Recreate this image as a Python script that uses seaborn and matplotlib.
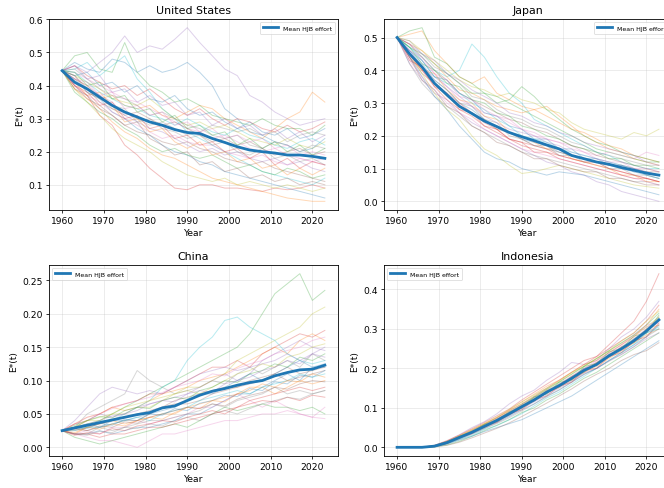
import numpy as np
import pandas as pd
import matplotlib
matplotlib.use("Agg")
import matplotlib.pyplot as plt
import seaborn as sns

years = [1960, 1963, 1966, 1969, 1972, 1975, 1978, 1981, 1984, 1987, 1990,
         1993, 1996, 1999, 2002, 2005, 2008, 2011, 2014, 2017, 2020, 2023]

us_mean = [0.445, 0.41, 0.39, 0.365, 0.34, 0.32, 0.305, 0.29, 0.28, 0.267, 0.258,
           0.255, 0.24, 0.228, 0.215, 0.205, 0.2, 0.196, 0.19, 0.19, 0.186, 0.18]
us_paths = [
    [0.445,0.42,0.38,0.36,0.32,0.30,0.27,0.25,0.22,0.20,0.19,0.17,0.16,0.14,0.13,0.12,0.11,0.10,0.09,0.08,0.07,0.06],
    [0.445,0.42,0.40,0.36,0.37,0.34,0.33,0.34,0.31,0.30,0.32,0.34,0.33,0.30,0.28,0.26,0.24,0.27,0.30,0.32,0.38,0.35],
    [0.445,0.49,0.50,0.45,0.44,0.53,0.44,0.40,0.38,0.35,0.36,0.34,0.31,0.30,0.29,0.28,0.30,0.28,0.27,0.27,0.25,0.28],
    [0.445,0.40,0.37,0.31,0.28,0.22,0.19,0.15,0.12,0.09,0.085,0.10,0.10,0.09,0.09,0.085,0.08,0.09,0.085,0.09,0.10,0.09],
    [0.445,0.46,0.44,0.47,0.50,0.55,0.50,0.52,0.51,0.54,0.575,0.53,0.49,0.45,0.43,0.37,0.35,0.32,0.30,0.28,0.29,0.30],
    [0.445,0.40,0.36,0.34,0.31,0.28,0.26,0.25,0.23,0.22,0.23,0.21,0.20,0.18,0.17,0.16,0.17,0.15,0.14,0.13,0.12,0.11],
    [0.445,0.44,0.42,0.40,0.38,0.36,0.35,0.33,0.31,0.29,0.27,0.26,0.24,0.25,0.23,0.21,0.20,0.21,0.19,0.18,0.17,0.16],
    [0.445,0.41,0.39,0.37,0.33,0.32,0.30,0.28,0.29,0.27,0.25,0.26,0.28,0.27,0.26,0.27,0.25,0.26,0.23,0.25,0.26,0.25],
    [0.445,0.43,0.41,0.39,0.36,0.35,0.34,0.36,0.33,0.30,0.28,0.29,0.27,0.28,0.26,0.24,0.23,0.22,0.24,0.22,0.21,0.23],
    [0.445,0.45,0.47,0.43,0.46,0.49,0.42,0.38,0.33,0.30,0.26,0.24,0.22,0.20,0.18,0.16,0.14,0.13,0.12,0.11,0.10,0.12],
    [0.445,0.47,0.45,0.44,0.48,0.47,0.44,0.46,0.44,0.45,0.47,0.44,0.40,0.33,0.30,0.26,0.25,0.23,0.22,0.20,0.21,0.24],
    [0.445,0.39,0.36,0.33,0.29,0.26,0.24,0.21,0.19,0.18,0.16,0.14,0.12,0.11,0.10,0.09,0.08,0.07,0.06,0.055,0.05,0.05],
    [0.445,0.38,0.35,0.32,0.30,0.27,0.25,0.22,0.20,0.21,0.19,0.18,0.19,0.17,0.15,0.16,0.14,0.13,0.15,0.14,0.12,0.13],
    [0.445,0.46,0.43,0.41,0.39,0.40,0.37,0.39,0.36,0.33,0.31,0.33,0.30,0.28,0.30,0.29,0.27,0.26,0.28,0.26,0.27,0.29],
    [0.445,0.42,0.40,0.37,0.35,0.31,0.29,0.27,0.26,0.24,0.22,0.20,0.21,0.19,0.20,0.18,0.17,0.18,0.16,0.17,0.15,0.14],
    [0.445,0.43,0.39,0.35,0.33,0.31,0.32,0.30,0.28,0.29,0.27,0.25,0.23,0.24,0.22,0.23,0.21,0.19,0.20,0.21,0.19,0.20],
    [0.445,0.40,0.37,0.35,0.32,0.30,0.28,0.26,0.24,0.25,0.23,0.22,0.22,0.20,0.19,0.18,0.19,0.17,0.16,0.18,0.17,0.18],
    [0.445,0.45,0.42,0.39,0.37,0.36,0.34,0.31,0.32,0.30,0.28,0.27,0.25,0.24,0.25,0.22,0.21,0.23,0.22,0.20,0.22,0.21],
    [0.445,0.39,0.35,0.31,0.27,0.24,0.22,0.20,0.17,0.15,0.13,0.12,0.11,0.12,0.10,0.11,0.10,0.09,0.10,0.09,0.08,0.09],
    [0.445,0.44,0.41,0.38,0.36,0.34,0.33,0.31,0.30,0.28,0.30,0.28,0.26,0.25,0.27,0.25,0.24,0.22,0.21,0.23,0.24,0.22],
    [0.445,0.43,0.44,0.40,0.41,0.38,0.40,0.36,0.35,0.37,0.33,0.31,0.32,0.29,0.27,0.29,0.26,0.25,0.27,0.24,0.25,0.27],
    [0.445,0.41,0.37,0.38,0.34,0.29,0.30,0.26,0.27,0.23,0.21,0.23,0.19,0.20,0.17,0.18,0.15,0.16,0.13,0.15,0.13,0.15],
    [0.445,0.44,0.40,0.41,0.36,0.37,0.32,0.33,0.29,0.31,0.27,0.28,0.25,0.26,0.22,0.24,0.21,0.23,0.20,0.22,0.19,0.21],
    [0.445,0.40,0.38,0.34,0.35,0.30,0.31,0.27,0.28,0.24,0.25,0.22,0.23,0.20,0.21,0.18,0.20,0.16,0.18,0.15,0.17,0.16],
    [0.445,0.46,0.42,0.43,0.38,0.39,0.35,0.37,0.34,0.35,0.31,0.32,0.28,0.30,0.27,0.28,0.25,0.27,0.24,0.26,0.23,0.25],
    [0.445,0.39,0.37,0.33,0.31,0.28,0.29,0.24,0.22,0.19,0.20,0.16,0.17,0.14,0.15,0.12,0.13,0.11,0.12,0.10,0.11,0.10],
    [0.445,0.42,0.41,0.37,0.38,0.33,0.34,0.31,0.32,0.28,0.29,0.26,0.27,0.24,0.25,0.23,0.24,0.21,0.22,0.19,0.20,0.19],
    [0.445,0.43,0.38,0.36,0.34,0.33,0.29,0.30,0.27,0.26,0.24,0.25,0.22,0.23,0.20,0.19,0.21,0.18,0.19,0.17,0.18,0.16],
]

jp_mean = [0.5, 0.45, 0.41, 0.36, 0.325, 0.29, 0.268, 0.245, 0.228, 0.21, 0.197,
           0.185, 0.172, 0.16, 0.14, 0.13, 0.12, 0.113, 0.103, 0.095, 0.086, 0.08]
jp_paths = [
    [0.5,0.46,0.42,0.37,0.34,0.30,0.28,0.25,0.23,0.21,0.19,0.18,0.17,0.15,0.14,0.13,0.12,0.11,0.10,0.09,0.08,0.07],
    [0.5,0.51,0.52,0.46,0.42,0.38,0.36,0.38,0.33,0.31,0.29,0.28,0.29,0.26,0.23,0.20,0.18,0.16,0.15,0.13,0.12,0.11],
    [0.5,0.52,0.53,0.44,0.42,0.38,0.36,0.33,0.32,0.30,0.28,0.26,0.24,0.22,0.20,0.18,0.16,0.15,0.14,0.13,0.12,0.12],
    [0.5,0.45,0.40,0.36,0.33,0.30,0.27,0.24,0.22,0.19,0.18,0.17,0.16,0.14,0.13,0.12,0.12,0.10,0.09,0.08,0.07,0.06],
    [0.5,0.42,0.37,0.33,0.31,0.27,0.24,0.22,0.20,0.18,0.16,0.14,0.12,0.11,0.09,0.08,0.06,0.05,0.03,0.02,0.01,0.0],
    [0.5,0.44,0.39,0.36,0.32,0.29,0.27,0.25,0.22,0.21,0.19,0.17,0.16,0.15,0.14,0.13,0.12,0.11,0.11,0.10,0.09,0.09],
    [0.5,0.48,0.43,0.39,0.35,0.31,0.29,0.27,0.26,0.24,0.22,0.20,0.19,0.18,0.17,0.15,0.14,0.15,0.14,0.13,0.15,0.14],
    [0.5,0.42,0.36,0.32,0.29,0.26,0.23,0.21,0.19,0.17,0.15,0.14,0.13,0.12,0.11,0.10,0.09,0.08,0.07,0.06,0.06,0.05],
    [0.5,0.49,0.46,0.43,0.40,0.37,0.35,0.34,0.32,0.33,0.31,0.30,0.28,0.27,0.24,0.22,0.21,0.20,0.19,0.21,0.20,0.22],
    [0.5,0.47,0.44,0.40,0.38,0.40,0.48,0.44,0.38,0.33,0.30,0.25,0.23,0.21,0.19,0.17,0.15,0.14,0.12,0.11,0.10,0.10],
    [0.5,0.44,0.38,0.32,0.28,0.23,0.19,0.15,0.13,0.12,0.10,0.09,0.08,0.09,0.085,0.08,0.07,0.06,0.05,0.04,0.03,0.02],
    [0.5,0.48,0.46,0.42,0.38,0.34,0.33,0.31,0.29,0.28,0.27,0.28,0.26,0.24,0.22,0.21,0.19,0.17,0.16,0.14,0.13,0.12],
    [0.5,0.47,0.45,0.42,0.39,0.36,0.33,0.33,0.30,0.31,0.35,0.32,0.28,0.25,0.22,0.20,0.18,0.17,0.15,0.14,0.13,0.12],
    [0.5,0.44,0.40,0.35,0.31,0.28,0.26,0.23,0.21,0.19,0.17,0.16,0.15,0.14,0.13,0.12,0.11,0.10,0.09,0.08,0.07,0.06],
    [0.5,0.46,0.41,0.38,0.35,0.32,0.29,0.26,0.24,0.22,0.21,0.20,0.18,0.17,0.15,0.14,0.13,0.12,0.11,0.10,0.09,0.08],
    [0.5,0.48,0.44,0.40,0.37,0.33,0.31,0.29,0.27,0.25,0.24,0.22,0.21,0.19,0.17,0.16,0.14,0.13,0.12,0.11,0.10,0.09],
    [0.5,0.43,0.38,0.34,0.30,0.27,0.25,0.22,0.20,0.18,0.16,0.15,0.14,0.13,0.12,0.11,0.10,0.09,0.08,0.07,0.06,0.05],
    [0.5,0.49,0.45,0.41,0.39,0.36,0.32,0.31,0.28,0.26,0.25,0.23,0.22,0.20,0.18,0.17,0.15,0.14,0.13,0.12,0.11,0.11],
    [0.5,0.45,0.39,0.33,0.28,0.25,0.20,0.16,0.14,0.11,0.085,0.09,0.10,0.11,0.10,0.09,0.08,0.07,0.06,0.05,0.045,0.04],
    [0.5,0.47,0.43,0.38,0.36,0.33,0.30,0.28,0.25,0.23,0.20,0.19,0.18,0.16,0.15,0.14,0.13,0.12,0.11,0.10,0.08,0.07],
    [0.5,0.46,0.43,0.38,0.37,0.33,0.31,0.27,0.26,0.23,0.22,0.19,0.19,0.16,0.16,0.13,0.13,0.11,0.11,0.09,0.09,0.08],
    [0.5,0.45,0.40,0.39,0.34,0.31,0.30,0.26,0.25,0.21,0.20,0.18,0.16,0.16,0.13,0.12,0.11,0.10,0.08,0.08,0.06,0.06],
    [0.5,0.47,0.42,0.40,0.36,0.35,0.31,0.30,0.27,0.26,0.23,0.22,0.20,0.19,0.17,0.16,0.15,0.13,0.13,0.11,0.11,0.10],
    [0.5,0.43,0.41,0.35,0.33,0.28,0.27,0.23,0.22,0.19,0.18,0.15,0.15,0.13,0.12,0.11,0.10,0.09,0.08,0.07,0.07,0.06],
    [0.5,0.48,0.45,0.43,0.39,0.37,0.34,0.32,0.30,0.27,0.26,0.24,0.23,0.21,0.20,0.18,0.17,0.16,0.15,0.14,0.12,0.11],
    [0.5,0.44,0.37,0.34,0.29,0.27,0.23,0.21,0.18,0.17,0.15,0.13,0.13,0.11,0.10,0.09,0.09,0.07,0.07,0.06,0.05,0.05],
    [0.5,0.46,0.44,0.39,0.37,0.32,0.31,0.28,0.26,0.25,0.22,0.21,0.19,0.18,0.16,0.15,0.13,0.12,0.12,0.10,0.10,0.09],
    [0.5,0.45,0.41,0.37,0.34,0.30,0.29,0.25,0.24,0.20,0.19,0.17,0.17,0.14,0.14,0.12,0.12,0.10,0.10,0.08,0.08,0.07],
]

cn_mean = [0.025, 0.029, 0.033, 0.037, 0.041, 0.045, 0.049, 0.052, 0.059, 0.062, 0.07,
           0.078, 0.084, 0.088, 0.093, 0.097, 0.1, 0.107, 0.112, 0.116, 0.117, 0.123]
cn_paths = [
    [0.025,0.02,0.02,0.025,0.02,0.025,0.03,0.03,0.035,0.04,0.05,0.05,0.06,0.07,0.08,0.08,0.09,0.10,0.11,0.10,0.12,0.12],
    [0.025,0.035,0.045,0.05,0.06,0.055,0.06,0.07,0.08,0.085,0.09,0.10,0.105,0.11,0.12,0.13,0.14,0.15,0.14,0.16,0.17,0.16],
    [0.025,0.03,0.035,0.04,0.05,0.06,0.07,0.08,0.09,0.10,0.11,0.12,0.13,0.14,0.15,0.17,0.20,0.23,0.245,0.26,0.22,0.235],
    [0.025,0.035,0.04,0.05,0.06,0.065,0.07,0.08,0.08,0.09,0.10,0.11,0.12,0.12,0.13,0.12,0.14,0.15,0.16,0.17,0.165,0.175],
    [0.025,0.03,0.04,0.05,0.045,0.05,0.06,0.065,0.07,0.075,0.08,0.09,0.10,0.11,0.10,0.11,0.13,0.14,0.15,0.16,0.15,0.145],
    [0.025,0.025,0.03,0.035,0.04,0.045,0.05,0.055,0.06,0.07,0.075,0.08,0.085,0.09,0.09,0.10,0.105,0.11,0.12,0.11,0.115,0.12],
    [0.025,0.02,0.025,0.02,0.03,0.03,0.04,0.035,0.04,0.045,0.05,0.06,0.06,0.07,0.08,0.07,0.06,0.07,0.06,0.05,0.045,0.06],
    [0.025,0.03,0.05,0.06,0.07,0.08,0.115,0.10,0.09,0.08,0.085,0.09,0.10,0.095,0.11,0.12,0.11,0.12,0.13,0.12,0.14,0.13],
    [0.025,0.03,0.04,0.04,0.05,0.05,0.06,0.06,0.07,0.08,0.09,0.09,0.10,0.11,0.13,0.14,0.15,0.16,0.17,0.18,0.20,0.21],
    [0.025,0.03,0.03,0.04,0.04,0.05,0.06,0.07,0.09,0.10,0.13,0.15,0.165,0.19,0.195,0.18,0.17,0.16,0.14,0.13,0.125,0.13],
    [0.025,0.03,0.035,0.03,0.04,0.04,0.045,0.05,0.055,0.06,0.07,0.08,0.08,0.09,0.10,0.11,0.10,0.11,0.12,0.13,0.12,0.125],
    [0.025,0.02,0.03,0.035,0.04,0.035,0.04,0.045,0.05,0.05,0.06,0.065,0.07,0.075,0.08,0.09,0.09,0.08,0.09,0.10,0.095,0.10],
    [0.025,0.015,0.01,0.005,0.01,0.015,0.02,0.025,0.03,0.035,0.03,0.04,0.05,0.06,0.055,0.06,0.065,0.06,0.06,0.055,0.06,0.05],
    [0.025,0.02,0.02,0.015,0.02,0.02,0.025,0.03,0.03,0.035,0.04,0.045,0.05,0.055,0.06,0.07,0.075,0.08,0.085,0.09,0.085,0.09],
    [0.025,0.04,0.06,0.08,0.09,0.085,0.08,0.085,0.08,0.09,0.10,0.11,0.115,0.12,0.115,0.12,0.125,0.13,0.14,0.13,0.14,0.15],
    [0.025,0.03,0.025,0.03,0.035,0.04,0.04,0.05,0.06,0.065,0.065,0.07,0.08,0.085,0.09,0.095,0.10,0.11,0.10,0.105,0.11,0.115],
    [0.025,0.02,0.015,0.01,0.01,0.005,0.0,0.01,0.02,0.02,0.025,0.03,0.035,0.04,0.04,0.045,0.05,0.05,0.055,0.05,0.045,0.043],
    [0.025,0.02,0.02,0.03,0.025,0.03,0.035,0.04,0.04,0.045,0.05,0.055,0.065,0.06,0.07,0.075,0.08,0.09,0.08,0.085,0.08,0.085],
    [0.025,0.03,0.04,0.045,0.05,0.06,0.065,0.07,0.075,0.08,0.085,0.08,0.09,0.10,0.11,0.115,0.125,0.12,0.135,0.14,0.15,0.155],
    [0.025,0.025,0.03,0.03,0.035,0.04,0.045,0.04,0.05,0.055,0.06,0.07,0.075,0.08,0.085,0.08,0.09,0.095,0.10,0.11,0.105,0.11],
    [0.025,0.03,0.028,0.036,0.033,0.042,0.04,0.05,0.048,0.058,0.055,0.066,0.07,0.078,0.076,0.088,0.085,0.098,0.095,0.108,0.105,0.115],
    [0.025,0.022,0.03,0.027,0.035,0.032,0.04,0.045,0.042,0.052,0.06,0.058,0.07,0.068,0.08,0.085,0.095,0.09,0.10,0.098,0.11,0.105],
    [0.025,0.033,0.04,0.046,0.044,0.055,0.06,0.058,0.07,0.075,0.072,0.085,0.09,0.1,0.097,0.11,0.115,0.125,0.12,0.135,0.13,0.14],
    [0.025,0.018,0.022,0.02,0.028,0.025,0.032,0.035,0.04,0.038,0.045,0.05,0.055,0.05,0.06,0.065,0.07,0.068,0.075,0.07,0.078,0.075],
    [0.025,0.028,0.035,0.04,0.047,0.05,0.055,0.065,0.07,0.068,0.08,0.085,0.082,0.095,0.1,0.105,0.115,0.12,0.13,0.125,0.14,0.135],
    [0.025,0.027,0.025,0.032,0.03,0.038,0.036,0.045,0.05,0.055,0.06,0.058,0.065,0.062,0.072,0.078,0.082,0.09,0.087,0.095,0.1,0.098],
    [0.025,0.035,0.045,0.05,0.058,0.065,0.07,0.075,0.082,0.09,0.095,0.1,0.11,0.107,0.118,0.125,0.13,0.14,0.145,0.15,0.16,0.165],
    [0.025,0.02,0.018,0.024,0.022,0.03,0.028,0.035,0.032,0.04,0.045,0.04,0.05,0.055,0.05,0.058,0.065,0.07,0.075,0.072,0.08,0.085],
]

id_mean = [0.0, 0.0, 0.0, 0.003, 0.012, 0.025, 0.038, 0.053, 0.068, 0.085, 0.103,
           0.12, 0.14, 0.156, 0.175, 0.195, 0.21, 0.232, 0.25, 0.27, 0.295, 0.323]
id_paths = [
    [0,0,0,0.002,0.01,0.022,0.034,0.048,0.062,0.078,0.095,0.11,0.13,0.145,0.165,0.185,0.2,0.22,0.24,0.26,0.28,0.31],
    [0,0,0,0.002,0.011,0.024,0.036,0.05,0.064,0.082,0.1,0.118,0.137,0.152,0.17,0.19,0.205,0.225,0.245,0.265,0.285,0.3],
    [0,0,0,0.001,0.006,0.015,0.028,0.042,0.056,0.07,0.088,0.1,0.12,0.135,0.155,0.175,0.19,0.21,0.23,0.25,0.27,0.29],
    [0,0,0,0.004,0.014,0.028,0.042,0.058,0.075,0.093,0.11,0.13,0.15,0.17,0.19,0.21,0.23,0.26,0.29,0.32,0.37,0.44],
    [0,0,0,0.005,0.016,0.032,0.05,0.065,0.085,0.11,0.13,0.145,0.17,0.19,0.215,0.21,0.22,0.25,0.28,0.30,0.33,0.37],
    [0,0,0,0.003,0.012,0.026,0.04,0.055,0.07,0.09,0.105,0.125,0.145,0.16,0.18,0.2,0.215,0.235,0.255,0.275,0.30,0.33],
    [0,0,0,0.003,0.012,0.025,0.039,0.054,0.07,0.087,0.104,0.122,0.14,0.158,0.177,0.197,0.215,0.238,0.26,0.28,0.305,0.315],
    [0,0,0,0.002,0.009,0.02,0.033,0.047,0.06,0.075,0.092,0.11,0.128,0.146,0.165,0.185,0.2,0.218,0.236,0.255,0.28,0.3],
    [0,0,0,0.004,0.015,0.028,0.043,0.059,0.075,0.092,0.11,0.128,0.148,0.166,0.186,0.206,0.225,0.244,0.264,0.284,0.305,0.33],
    [0,0,0,0.002,0.01,0.02,0.03,0.045,0.055,0.07,0.085,0.105,0.125,0.14,0.16,0.18,0.20,0.22,0.24,0.26,0.29,0.30],
    [0,0,0,0.002,0.008,0.018,0.028,0.04,0.05,0.06,0.07,0.085,0.10,0.115,0.13,0.15,0.17,0.19,0.21,0.23,0.25,0.27],
    [0,0,0,0.004,0.015,0.03,0.045,0.06,0.075,0.095,0.115,0.135,0.155,0.17,0.19,0.21,0.22,0.24,0.26,0.28,0.31,0.35],
    [0,0,0,0.003,0.013,0.027,0.041,0.057,0.072,0.088,0.108,0.127,0.147,0.165,0.185,0.205,0.225,0.245,0.265,0.285,0.31,0.34],
    [0,0,0,0.005,0.017,0.031,0.047,0.063,0.08,0.097,0.12,0.14,0.16,0.18,0.2,0.22,0.23,0.25,0.27,0.29,0.32,0.36],
    [0,0,0,0.003,0.011,0.023,0.035,0.05,0.064,0.08,0.098,0.115,0.133,0.15,0.168,0.188,0.2,0.22,0.235,0.255,0.275,0.29],
    [0,0,0,0.001,0.005,0.013,0.024,0.036,0.048,0.062,0.078,0.095,0.112,0.13,0.148,0.168,0.185,0.2,0.22,0.235,0.245,0.265],
    [0,0,0,0.004,0.013,0.027,0.042,0.058,0.073,0.09,0.107,0.125,0.142,0.16,0.18,0.2,0.22,0.24,0.26,0.285,0.31,0.32],
    [0,0,0,0.002,0.01,0.023,0.037,0.052,0.066,0.082,0.1,0.12,0.138,0.155,0.172,0.19,0.21,0.228,0.245,0.265,0.29,0.31],
    [0,0,0,0.004,0.014,0.029,0.044,0.06,0.077,0.096,0.115,0.133,0.15,0.168,0.19,0.205,0.225,0.245,0.27,0.29,0.32,0.345],
    [0,0,0,0.003,0.012,0.024,0.038,0.052,0.068,0.085,0.102,0.119,0.137,0.155,0.174,0.193,0.21,0.23,0.248,0.268,0.29,0.305],
    [0,0,0,0.003,0.011,0.025,0.037,0.055,0.066,0.087,0.1,0.123,0.137,0.16,0.172,0.2,0.207,0.236,0.247,0.275,0.29,0.325],
    [0,0,0,0.002,0.013,0.023,0.04,0.05,0.07,0.083,0.106,0.117,0.144,0.152,0.18,0.19,0.215,0.228,0.255,0.265,0.3,0.31],
    [0,0,0,0.004,0.012,0.028,0.038,0.058,0.068,0.09,0.1,0.128,0.135,0.165,0.17,0.205,0.212,0.242,0.25,0.282,0.29,0.335],
    [0,0,0,0.003,0.01,0.026,0.035,0.054,0.063,0.085,0.095,0.12,0.13,0.155,0.165,0.195,0.2,0.23,0.24,0.27,0.28,0.315],
]

countries = ["United States", "Japan", "China", "Indonesia"]
all_paths = [us_paths, jp_paths, cn_paths, id_paths]
all_means = [us_mean, jp_mean, cn_mean, id_mean]
legend_locs = ["upper right", "upper right", "upper left", "upper left"]

W, H = 664, 489
fig = plt.figure(figsize=(W / 100, H / 100), dpi=100)
# axes boxes in pixels: left, top, right, bottom
boxes = [(49, 20, 338, 211), (384, 20, 672, 211),
         (49, 266, 338, 457), (384, 266, 672, 457)]

palette = sns.color_palette("tab10", 10)

for country, paths, mean, box, loc in zip(countries, all_paths, all_means, boxes, legend_locs):
    l, t, r, b = box
    ax = fig.add_axes([l / W, 1 - b / H, (r - l) / W, (b - t) / H])
    rows = []
    for k, p in enumerate(paths):
        for yr, v in zip(years, p):
            rows.append((k, yr, v))
    df = pd.DataFrame(rows, columns=["path", "Year", "E"])
    sns.lineplot(data=df, x="Year", y="E", hue="path",
                 palette=[palette[k % 10] for k in range(len(paths))],
                 alpha=0.3, linewidth=0.7, legend=False, ax=ax, estimator=None)
    mdf = pd.DataFrame({"Year": years, "E": mean})
    sns.lineplot(data=mdf, x="Year", y="E", color="#1f77b4", linewidth=2.0,
                 label="Mean HJB effort", ax=ax)
    ax.set_title(country, fontsize=7.9, pad=4)
    ax.set_xlabel("Year", fontsize=6.6, labelpad=2)
    ax.set_ylabel("E*(t)", fontsize=6.6, labelpad=3)
    ax.tick_params(labelsize=6.6, length=2.3, width=0.55, pad=2)
    ax.grid(True, alpha=0.3, linewidth=0.55)
    for s in ax.spines.values():
        s.set_linewidth(0.6)
    ax.set_xticks([1960, 1970, 1980, 1990, 2000, 2010, 2020])
    leg = ax.legend(loc=loc, fontsize=4.5, frameon=True, handlelength=2.3,
                    borderpad=0.5, framealpha=0.8)
    leg.get_frame().set_linewidth(0.5)

fig.savefig("out.png", dpi=100)
